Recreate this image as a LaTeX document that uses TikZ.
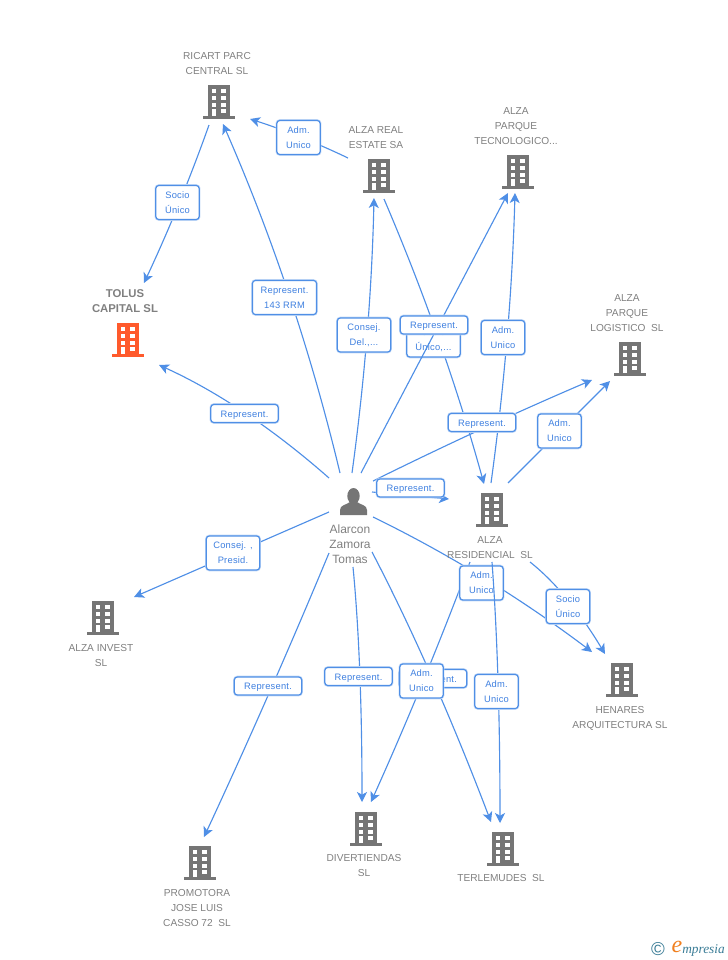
\documentclass[tikz,border=0pt]{standalone}
\usepackage{fontspec}
\setmainfont{Liberation Sans}
\newfontfamily\lblfont[LetterSpace=2.5]{Liberation Sans}
\newfontfamily\logofont{Liberation Serif}
\usetikzlibrary{arrows.meta,backgrounds,calc}
\definecolor{bgray}{HTML}{757575}
\definecolor{borange}{HTML}{FF5A2C}
\definecolor{tgray}{HTML}{808080}
\definecolor{lblue}{HTML}{4F8FE6}
\definecolor{tblue}{HTML}{3F80E0}
\definecolor{halo}{HTML}{C4DAF7}
\definecolor{logoteal}{HTML}{3A7C96}
\definecolor{logoorange}{HTML}{F08020}
\pgfdeclarelayer{lowboxes}
\pgfdeclarelayer{midlines}
\pgfsetlayers{background,lowboxes,midlines,main}
\newcommand{\qconn}[3]{\draw[arr] (#1) .. controls ($(#1)!0.6667!(#3)$) and ($(#2)!0.6667!(#3)$) .. (#2);}
\tikzset{
  pics/bldg/.style={code={
    \fill[#1] (-11,-17) rectangle (11,14);
    \fill[#1] (-16,14) rectangle (16,17);
    \fill[white] (-7.3,-13) rectangle (-3,-8.7);
    \fill[white] (2.3,-13) rectangle (7,-8.7);
    \fill[white] (-7.3,-6) rectangle (-3,-2);
    \fill[white] (2.3,-6) rectangle (7,-2);
    \fill[white] (-7.3,0.7) rectangle (-3,4.7);
    \fill[white] (2.3,0.7) rectangle (7,4.7);
    \fill[white] (-7.3,7) rectangle (-3,14);
    \fill[white] (2.3,7) rectangle (7,11);
  }},
  nametext/.style={text=tgray,font=\fontsize{7.6}{11.25}\selectfont,align=center,inner sep=0pt},
  lblbase/.style={rounded corners=2.2pt,draw=lblue,line width=0.9pt,fill=white,
    preaction={draw=halo,line width=1.9pt},text=tblue,
    font=\lblfont\fontsize{7}{11.25}\selectfont,align=center,inner sep=0pt},
  twoline/.style={lblbase,minimum width=32.5pt,minimum height=25.5pt,execute at begin node={\rule{0pt}{6.5pt}}},
  oneline/.style={lblbase,minimum width=50.5pt,minimum height=13.5pt,text height=5.9pt,text depth=0pt},
  conn/.style={draw=lblue,line width=0.85pt},
  arr/.style={conn,-{Stealth[length=7.5pt,width=7.5pt,inset=2pt]}},
}
\begin{document}
\begin{tikzpicture}[x=0.75pt,y=-0.75pt]
\useasboundingbox (0,0) rectangle (728,960);
% buildings
\pic at (219,102) {bldg=bgray};
\pic at (379,176) {bldg=bgray};
\pic at (518,172) {bldg=bgray};
\pic at (630,359) {bldg=bgray};
\pic at (128,340) {bldg=borange};
\pic at (492,510) {bldg=bgray};
\pic at (103,618) {bldg=bgray};
\pic at (622,680) {bldg=bgray};
\pic at (200,863) {bldg=bgray};
\pic at (366,829) {bldg=bgray};
\pic at (503,849) {bldg=bgray};
% person
\fill[bgray] (353.5,496) ellipse (6.2 and 8);
\fill[bgray] (340,515) -- (340,510) .. controls (340,505) and (346,505) .. (350,502) -- (357,502) .. controls (361,505) and (367,505) .. (367,510) -- (367,515) -- cycle;
% names
\node[nametext] (nRicart) at (217,64) {RICART PARC\\CENTRAL SL};
\node[nametext] (nReal) at (376,138) {ALZA REAL\\ESTATE SA};
\node[nametext] (nTec) at (516,126) {ALZA\\PARQUE\\TECNOLOGICO...};
\node[nametext] (nLog) at (627,313) {ALZA\\PARQUE\\LOGISTICO~~SL};
\node[nametext,font=\bfseries\fontsize{8.5}{11.25}\selectfont] (nTolus) at (125,301) {TOLUS\\CAPITAL SL};
\node[nametext] (nRes) at (490,548) {ALZA\\RESIDENCIAL~~SL};
\node[nametext] (nInvest) at (101,656) {ALZA INVEST\\SL};
\node[nametext] (nHen) at (620,718) {HENARES\\ARQUITECTURA SL};
\node[nametext] (nProm) at (197,908) {PROMOTORA\\JOSE LUIS\\CASSO 72~~SL};
\node[nametext] (nDiv) at (364,866) {DIVERTIENDAS\\SL};
\node[nametext] (nTer) at (501,878) {TERLEMUDES~~SL};
\node[nametext,font=\fontsize{9}{11.25}\selectfont] (nPer) at (350,544) {Alarcon\\Zamora\\Tomas};
% labels
\node[twoline] (lSocioA) at (177.5,202.5) {Socio\\Único};
\node[twoline] (lAdmA) at (298.5,137.5) {Adm.\\Unico};
\node[twoline,minimum width=48pt] (l143) at (284.5,297.5) {Represent.\\143 RRM};
\node[twoline,minimum width=40pt] (lCons) at (364,335) {Consej.\\Del.,...};
\begin{pgfonlayer}{lowboxes}
\node[twoline,minimum width=40pt] (lUnico) at (433.5,340) {Socio\\Único,...};
\node[twoline] (lAdmH) at (481.5,583) {Adm.\\Unico};
\end{pgfonlayer}
\node[oneline] (lRepT) at (434,325) {Represent.};
\node[twoline] (lAdmT) at (503,337.5) {Adm.\\Unico};
\node[oneline] (lRepL) at (482,422.5) {Represent.};
\node[twoline] (lAdmL) at (559.5,431) {Adm.\\Unico};
\node[oneline] (lRepR) at (410.5,488) {Represent.};
\node[oneline] (lRepTol) at (244.5,413.5) {Represent.};
\node[twoline,minimum width=40pt] (lCP) at (233,553) {Consej. ,\\Presid.};
\node[oneline] (lRepP) at (268,686) {Represent.};
\node[oneline] (lRepD) at (358.5,676.5) {Represent.};
\node[oneline] (lRepTer) at (433,678.5) {Represent.};
\node[twoline] (lAdmD) at (421.5,681) {Adm.\\Unico};
\node[twoline] (lAdmTe) at (496.5,691.5) {Adm.\\Unico};
\node[twoline] (lSocioH) at (568,606.5) {Socio\\Único};
% connector ends
\coordinate (s1) at (209,125); \coordinate (e1) at (144,283);
\coordinate (s2) at (340,473); \coordinate (e2) at (223,124);
\coordinate (s3) at (348,158); \coordinate (e3) at (250,119);
\coordinate (s4) at (352,473); \coordinate (e4) at (374,198);
\coordinate (s5) at (384,199); \coordinate (e5) at (484,484);
\coordinate (s6) at (361,473); \coordinate (e6) at (508,193);
\coordinate (s7) at (491,483); \coordinate (e7) at (515,193);
\coordinate (s8) at (373,481); \coordinate (e8) at (592,380);
\coordinate (s9) at (508,483); \coordinate (e9) at (610,381);
\coordinate (s10) at (372,492); \coordinate (e10) at (449,499);
\coordinate (s11) at (329,478); \coordinate (e11) at (159,365);
\coordinate (s12) at (329,512); \coordinate (e12) at (134,597);
\coordinate (s13) at (329,553); \coordinate (e13) at (204,837);
\coordinate (s14) at (353,567); \coordinate (e14) at (362,802);
\coordinate (s15) at (372,552); \coordinate (e15) at (491,822);
\coordinate (s16) at (470,562); \coordinate (e16) at (371,802);
\coordinate (s17) at (492,562); \coordinate (e17) at (500,823);
\coordinate (s18) at (373,517); \coordinate (e18) at (592,652);
\coordinate (s19) at (530,562); \coordinate (e19) at (605,654);
\begin{pgfonlayer}{background}
\qconn{s1}{e1}{181,204}
\qconn{s2}{e2}{297,293}
\qconn{s3}{e3}{300,135}
\qconn{s4}{e4}{371,334}
\qconn{s5}{e5}{444,339}
\qconn{s7}{e7}{511,338}
\qconn{s8}{e8}{482,427}
\draw[arr] (s9) -- (e9);
\draw[arr] (s10) -- (e10);
\qconn{s11}{e11}{245,404}
\draw[arr] (s12) -- (e12);
\qconn{s13}{e13}{270,695}
\qconn{s14}{e14}{362,660}
\qconn{s15}{e15}{432,667}
\qconn{s16}{e16}{425,682}
\qconn{s18}{e18}{486,572}
\qconn{s19}{e19}{568,592}
\end{pgfonlayer}
\begin{pgfonlayer}{midlines}
\draw[arr] (s6) -- (e6);
\qconn{s17}{e17}{500,670}
\end{pgfonlayer}
% logo
\node[inner sep=0pt,text=logoteal,font=\fontsize{14}{14}\selectfont] (logoC) at (658,949) {©};
\node[inner sep=0pt,text=logoorange,font=\logofont\itshape\fontsize{18}{18}\selectfont] (logoE) at (677,947) {e};
\node[inner sep=0pt,anchor=west,text=logoteal,font=\logofont\itshape\fontsize{10}{10}\selectfont] (logoT) at (682,950) {mpresia};
\end{tikzpicture}
\end{document}
